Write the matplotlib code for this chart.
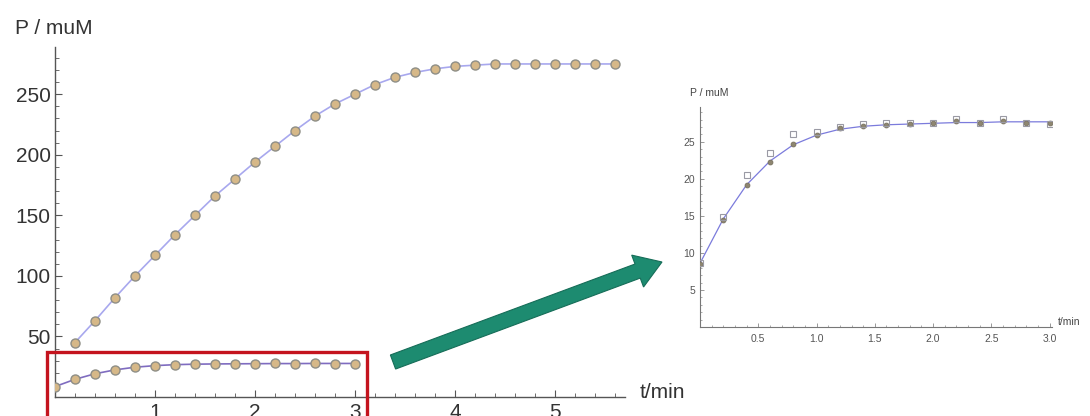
import matplotlib
matplotlib.use("Agg")
import matplotlib.pyplot as plt
from matplotlib.patches import Rectangle, FancyArrow
from matplotlib.ticker import MultipleLocator

plt.rcParams['font.family'] = ['Liberation Sans', 'DejaVu Sans']

# main curve (large substrate), t = 0.2 ... 5.6 min
t_high = [0.2, 0.4, 0.6, 0.8, 1.0, 1.2, 1.4, 1.6, 1.8, 2.0, 2.2, 2.4, 2.6, 2.8,
          3.0, 3.2, 3.4, 3.6, 3.8, 4.0, 4.2, 4.4, 4.6, 4.8, 5.0, 5.2, 5.4, 5.6]
p_high = [45, 63, 82, 100, 117, 134, 150, 166, 180, 194, 207, 220, 232, 242,
          250, 258, 264, 268, 271, 273, 274, 275, 275, 275, 275, 275, 275, 275]

# low curve, t = 0 ... 3.0 min (shown magnified in the inset)
t_low = [0.0, 0.2, 0.4, 0.6, 0.8, 1.0, 1.2, 1.4, 1.6, 1.8, 2.0, 2.2, 2.4, 2.6, 2.8, 3.0]
p_low_fit = [8.6, 14.6, 19.2, 22.4, 24.6, 25.9, 26.7, 27.1, 27.3, 27.4, 27.5, 27.6, 27.6, 27.7, 27.7, 27.7]
p_low_a = [8.5, 14.5, 19.2, 22.3, 24.7, 25.9, 26.8, 27.2, 27.3, 27.4, 27.5, 27.8, 27.6, 27.8, 27.6, 27.6]
p_low_b = [8.7, 14.9, 20.5, 23.5, 26.1, 26.3, 27.0, 27.4, 27.6, 27.6, 27.5, 28.1, 27.6, 28.1, 27.6, 27.4]

# zoom box drawn on the main chart (t range, P range)
ZOOM_T = (-0.08, 3.12)
ZOOM_P = (-25, 37)

AXIS_COL = '#555555'
TXT_COL = '#333333'

fig = plt.figure(figsize=(10.9, 4.16), dpi=100)

# ---- main chart ----
ax = fig.add_axes([55 / 1090, 19 / 416, 570 / 1090, 350 / 416])
ax.plot(t_high, p_high, '-', color='#a8a8ee', lw=1.2, zorder=2)
ax.plot(t_high, p_high, 'o', ms=6.5, mfc='#d6b888', mec='#8e8e86', mew=1.0, zorder=3)
ax.plot(t_low, p_low_fit, '-', color='#7f6cc0', lw=1.2, zorder=2)
ax.plot(t_low, p_low_a, 'o', ms=6.5, mfc='#d6b888', mec='#8e8e86', mew=1.0, zorder=3)

ax.set_xlim(0, 5.7)
ax.set_ylim(0, 289)
for s in ['top', 'right']:
    ax.spines[s].set_visible(False)
for s in ['left', 'bottom']:
    ax.spines[s].set_color(AXIS_COL)
    ax.spines[s].set_linewidth(1.0)
ax.xaxis.set_major_locator(MultipleLocator(1))
ax.xaxis.set_minor_locator(MultipleLocator(0.2))
ax.yaxis.set_major_locator(MultipleLocator(50))
ax.yaxis.set_minor_locator(MultipleLocator(10))
ax.set_yticks([50, 100, 150, 200, 250])
ax.set_xticks([1, 2, 3, 4, 5])
ax.tick_params(which='both', direction='in', colors=AXIS_COL, labelcolor=TXT_COL,
               labelsize=15)
ax.tick_params(which='major', length=5, width=0.8)
ax.tick_params(which='minor', length=3, width=0.6)
ax.tick_params(axis='x', pad=4)
ax.tick_params(axis='y', pad=3)

ax.add_patch(Rectangle((ZOOM_T[0], ZOOM_P[0]), ZOOM_T[1] - ZOOM_T[0], ZOOM_P[1] - ZOOM_P[0],
                       fill=False, ec='#c4141e', lw=2.4, clip_on=False, zorder=4))

fig.text(15 / 1090, 1 - 28 / 416, 'P / muM', fontsize=15, color=TXT_COL, va='center', ha='left')
fig.text(640 / 1090, 1 - 393 / 416, 't/min', fontsize=15, color=TXT_COL, va='center', ha='left')

# ---- arrow ----
arrow = FancyArrow(3.93, 0.54, 2.69, 1.0, width=0.15, head_width=0.34, head_length=0.26,
                   length_includes_head=True, transform=fig.dpi_scale_trans,
                   fc='#1d8b70', ec='#166d58', lw=0.8)
fig.add_artist(arrow)

# ---- inset ----
ins = fig.add_axes([700 / 1090, 89 / 416, 352 / 1090, 220 / 416])
ins.plot(t_low, p_low_fit, '-', color='#7b7bdc', lw=0.9, zorder=2)
ins.plot(t_low, p_low_a, 'o', ms=3.5, mfc='#8e8670', mec='#77705e', mew=0.6, zorder=3)
ins.plot(t_low, p_low_b, 's', ms=4.5, mfc='none', mec='#9a9aa4', mew=0.8, zorder=3)
ins.set_xlim(0, 3.02)
ins.set_ylim(0, 29.7)
for s in ['top', 'right']:
    ins.spines[s].set_visible(False)
for s in ['left', 'bottom']:
    ins.spines[s].set_color('#777777')
    ins.spines[s].set_linewidth(0.8)
ins.set_xticks([0.5, 1.0, 1.5, 2.0, 2.5, 3.0])
ins.set_xticklabels(['0.5', '1.0', '1.5', '2.0', '2.5', '3.0'])
ins.set_yticks([5, 10, 15, 20, 25])
ins.xaxis.set_minor_locator(MultipleLocator(0.1))
ins.yaxis.set_minor_locator(MultipleLocator(1))
ins.tick_params(which='both', direction='in', colors='#888888', labelcolor='#555555',
                labelsize=7.5)
ins.tick_params(which='major', length=3, width=0.6)
ins.tick_params(which='minor', length=1.5, width=0.5)
ins.tick_params(axis='x', pad=5)

fig.text(690 / 1090, 1 - 93 / 416, 'P / muM', fontsize=7.5, color='#444444', va='center', ha='left')
fig.text(1058 / 1090, 1 - 322 / 416, 't/min', fontsize=7.5, color='#444444', va='center', ha='left')

fig.savefig('out.png', dpi=100, facecolor='white')
